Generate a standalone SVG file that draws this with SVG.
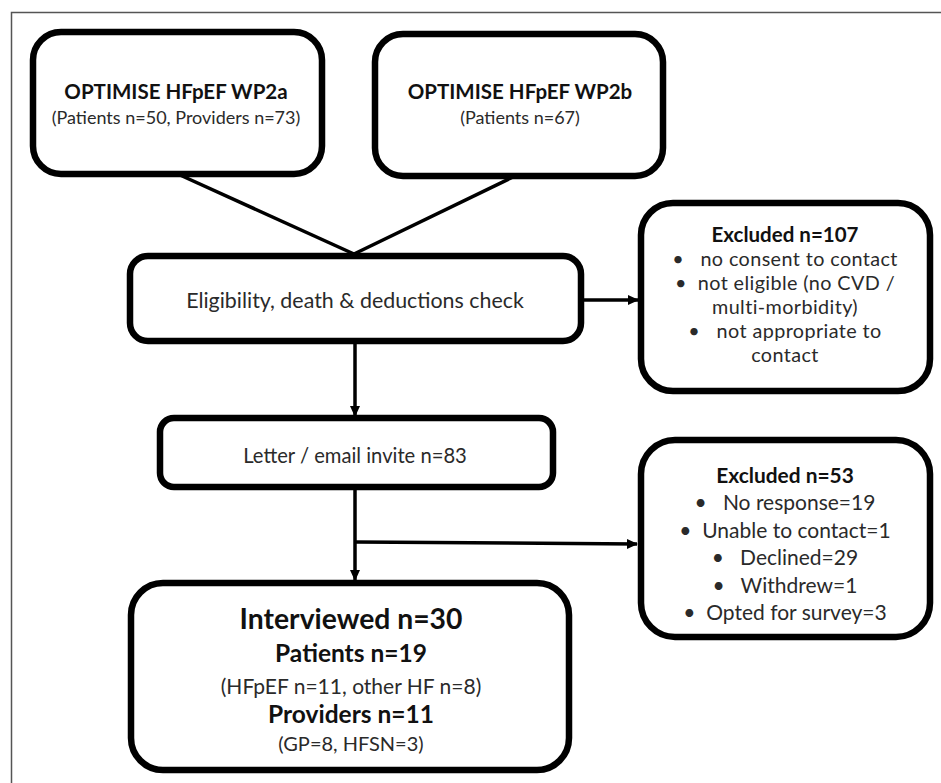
<svg xmlns="http://www.w3.org/2000/svg" width="941" height="783" viewBox="0 0 941 783">
<defs>
<marker id="ah" markerWidth="11" markerHeight="11" refX="10" refY="5.5" orient="auto" markerUnits="userSpaceOnUse">
<path d="M0,0.5 L11,5.5 L0,10.5 Z" fill="#000"/>
</marker>
<style>
.box{fill:#fff;stroke:#000;stroke-width:6.5}
.t{font-family:Lato,"Liberation Sans",Arial,sans-serif;fill:#2a2a2a;text-anchor:middle;white-space:pre}
.b{font-weight:bold;fill:#111}
.ln{stroke:#000;stroke-width:3.5;fill:none}
.e1{font-size:19.8px;letter-spacing:0.4px}
.e2{font-size:21px}
</style>
</defs>
<rect width="941" height="783" fill="#fff"/>
<path d="M11.5,783 V12.5 H941" fill="none" stroke="#555" stroke-width="1.5"/>
<g id="connectors">
<line class="ln" x1="180" y1="175" x2="354" y2="254"/>
<line class="ln" x1="513" y1="177" x2="354" y2="254"/>
<line class="ln" x1="584" y1="300" x2="638" y2="300" marker-end="url(#ah)"/>
<line class="ln" x1="355" y1="343" x2="355" y2="416" marker-end="url(#ah)"/>
<line class="ln" x1="355" y1="490" x2="355" y2="580" marker-end="url(#ah)"/>
<line class="ln" x1="355" y1="542" x2="637" y2="544" stroke-width="2.5" marker-end="url(#ah)"/>
</g>
<g id="wp2a">
<rect class="box" x="33" y="32" width="289" height="142" rx="28"/>
<text class="t b" x="176" y="98.5" font-size="20.5">OPTIMISE HFpEF WP2a</text>
<text class="t" x="176" y="123.5" font-size="18">(Patients n=50, Providers n=73)</text>
</g>
<g id="wp2b">
<rect class="box" x="375" y="34" width="288" height="142" rx="28"/>
<text class="t b" x="520" y="98.5" font-size="20.5">OPTIMISE HFpEF WP2b</text>
<text class="t" x="520" y="123.5" font-size="18">(Patients n=67)</text>
</g>
<g id="eligibility">
<rect class="box" x="130" y="256" width="451" height="85" rx="18"/>
<text class="t" x="355" y="307.5" font-size="21.4">Eligibility, death &amp; deductions check</text>
</g>
<g id="excluded107">
<rect class="box" x="641" y="203" width="289" height="188" rx="32"/>
<text class="t b" x="785" y="242" font-size="20.5">Excluded n=107</text>
<text class="t e1" x="785" y="266" xml:space="preserve">•   no consent to contact</text>
<text class="t e1" x="785" y="290" xml:space="preserve">•  not eligible (no CVD /</text>
<text class="t e1" x="785" y="314">multi-morbidity)</text>
<text class="t e1" x="785" y="338" xml:space="preserve">•   not appropriate to</text>
<text class="t e1" x="785" y="362">contact</text>
</g>
<g id="letter">
<rect class="box" x="160" y="418" width="393" height="69" rx="14"/>
<text class="t" x="355" y="462.5" font-size="20.2">Letter / email invite n=83</text>
</g>
<g id="excluded53">
<rect class="box" x="641" y="440" width="289" height="197" rx="34"/>
<text class="t b" x="785" y="483" font-size="20.9">Excluded n=53</text>
<text class="t e2" x="785" y="510" xml:space="preserve">•   No response=19</text>
<text class="t e2" x="785" y="538" xml:space="preserve">•  Unable to contact=1</text>
<text class="t e2" x="785" y="565" xml:space="preserve">•   Declined=29</text>
<text class="t e2" x="785" y="593" xml:space="preserve">•   Withdrew=1</text>
<text class="t e2" x="785" y="620" xml:space="preserve">•  Opted for survey=3</text>
</g>
<g id="interviewed">
<rect class="box" x="131" y="583" width="438" height="187" rx="32"/>
<text class="t b" x="351" y="628.5" font-size="28.3">Interviewed n=30</text>
<text class="t b" x="351" y="661.5" font-size="24.5">Patients n=19</text>
<text class="t" x="351" y="693.5" font-size="21">(HFpEF n=11, other HF n=8)</text>
<text class="t b" x="351" y="723" font-size="24.5">Providers n=11</text>
<text class="t" x="351" y="751" font-size="20">(GP=8, HFSN=3)</text>
</g>
</svg>
